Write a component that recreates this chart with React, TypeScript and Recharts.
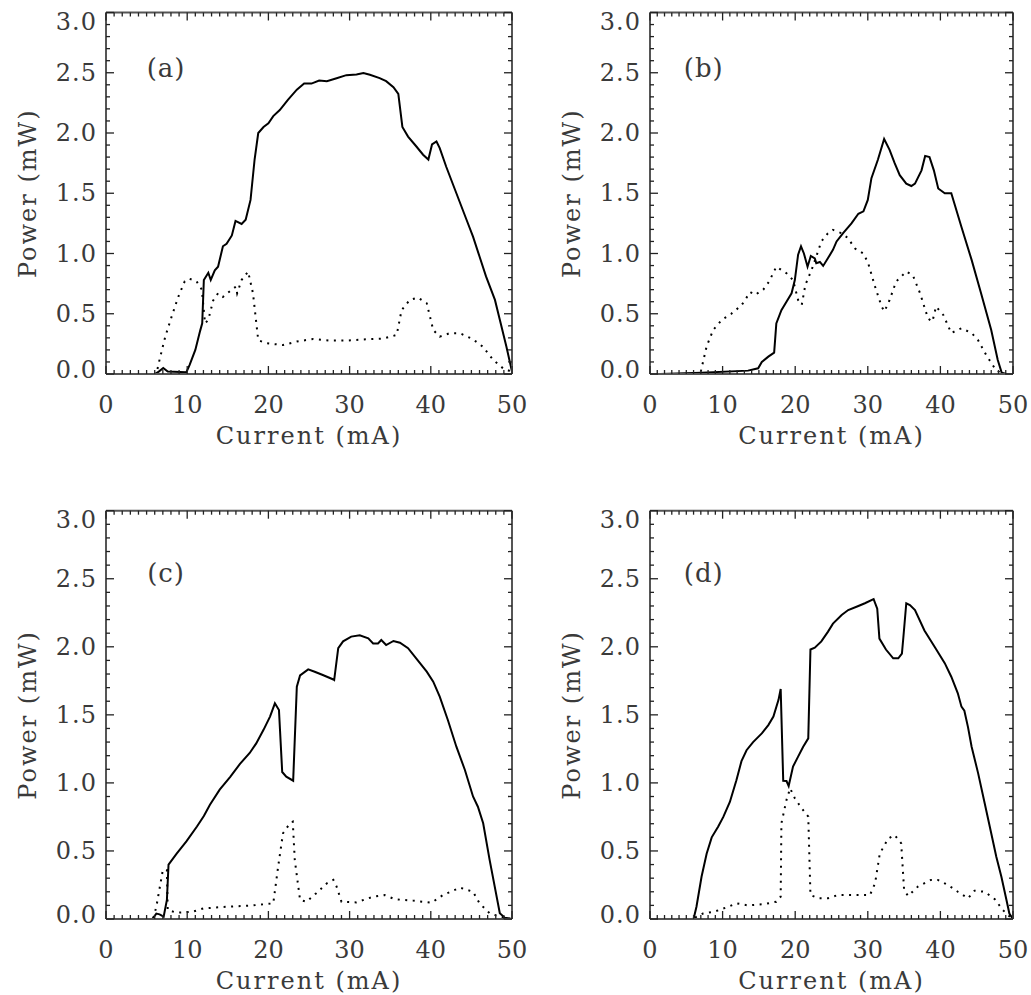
import { LineChart, Line, XAxis, YAxis, ReferenceDot } from "recharts";

const FONT = "DejaVu Serif";
const TEXT = "#3a3a3a";
const AXIS = "#555";

// major / minor tick values
const xMajor = [0, 10, 20, 30, 40, 50];
const yMajor = [0, 0.5, 1, 1.5, 2, 2.5, 3];
const xTicks = Array.from({ length: 51 }, (_, i) => i);
const yTicks = Array.from({ length: 31 }, (_, i) => i / 10);

// [current mA, power mW]
const aSolid = [
  [1.3, 0], [6.0, 0], [6.5, 0.02], [7.05, 0.05], [7.6, 0.02], [9.9, 0.015], [10.3, 0.075], [11.0, 0.2],
  [11.6, 0.36], [11.85, 0.42], [12.05, 0.78], [12.6, 0.84], [12.9, 0.78], [13.4, 0.86], [13.8, 0.89],
  [14.4, 1.06], [14.85, 1.08], [15.5, 1.15], [15.95, 1.27], [16.7, 1.245], [17.2, 1.28], [17.8, 1.445],
  [18.3, 1.78], [18.75, 2.0], [19.4, 2.05], [20.0, 2.08], [20.6, 2.14], [21.4, 2.19], [22.4, 2.275],
  [23.5, 2.36], [24.4, 2.41], [25.3, 2.41], [26.25, 2.435], [27.2, 2.43], [28.4, 2.455], [29.6, 2.48],
  [30.85, 2.485], [31.7, 2.497], [32.5, 2.483], [33.7, 2.455], [34.5, 2.43], [35.4, 2.38], [36.0, 2.325],
  [36.5, 2.05], [37.2, 1.97], [38.2, 1.89], [39.05, 1.82], [39.7, 1.78], [40.15, 1.905], [40.7, 1.93],
  [41.1, 1.875], [41.9, 1.72], [43.15, 1.5], [44.4, 1.28], [45.2, 1.14], [46.0, 0.975], [46.8, 0.81],
  [47.9, 0.615], [48.5, 0.45], [49.3, 0.23], [50, 0.02],
];
const aDots = [
  [1.3, 0], [6.2, 0], [6.6, 0.12], [7.3, 0.31], [8.1, 0.48], [8.9, 0.64], [9.7, 0.77], [10.3, 0.79],
  [11.15, 0.77], [11.8, 0.7], [12.2, 0.42], [12.6, 0.45], [13.2, 0.61], [13.8, 0.67], [14.4, 0.64],
  [15.5, 0.7], [16.0, 0.725], [16.15, 0.67], [16.7, 0.78], [17.5, 0.85], [18.1, 0.67], [18.75, 0.28],
  [19.8, 0.255], [21.8, 0.24], [23.5, 0.27], [25.5, 0.29], [27.6, 0.277], [29.6, 0.277], [32.1, 0.288],
  [34.1, 0.293], [35.8, 0.324], [36.4, 0.53], [37.4, 0.614], [38.4, 0.634], [39.5, 0.587], [40.3, 0.365],
  [41.1, 0.31], [42.3, 0.338], [43.6, 0.338], [45.2, 0.288], [46.4, 0.227], [47.7, 0.116], [48.9, 0.047],
  [49.9, 0.02],
];

const bSolid = [
  [1.4, 0], [7.1, 0.01], [13.5, 0.028], [14.9, 0.047], [15.4, 0.1], [16.3, 0.144], [17.1, 0.177],
  [17.4, 0.42], [18.1, 0.53], [18.8, 0.6], [19.5, 0.67], [19.95, 0.78], [20.4, 0.99], [20.8, 1.06],
  [21.2, 1.0], [21.7, 0.89], [22.15, 0.98], [22.7, 0.96], [22.9, 0.92], [23.4, 0.93], [23.85, 0.897],
  [24.5, 0.96], [25.2, 1.03], [25.7, 1.1], [26.6, 1.17], [27.75, 1.25], [28.7, 1.33], [29.4, 1.35],
  [30.0, 1.445], [30.5, 1.625], [31.4, 1.78], [32.25, 1.95], [33.0, 1.86], [33.7, 1.75], [34.4, 1.65],
  [35.3, 1.58], [36.0, 1.56], [36.5, 1.58], [37.4, 1.69], [37.9, 1.81], [38.5, 1.8], [39.1, 1.69],
  [39.7, 1.54], [40.6, 1.5], [41.5, 1.5], [42.9, 1.22], [44.3, 0.947], [45.6, 0.67], [47.0, 0.365],
  [47.9, 0.116], [48.45, 0.01], [49.1, 0], [50, 0],
];
const bDots = [
  [7.0, 0.02], [7.8, 0.23], [8.7, 0.365], [9.9, 0.45], [11.2, 0.5], [12.6, 0.57], [13.8, 0.68],
  [14.45, 0.656], [15.6, 0.7], [16.4, 0.767], [17.4, 0.89], [18.8, 0.836], [19.7, 0.78], [20.4, 0.614],
  [20.9, 0.573], [21.4, 0.74], [22.25, 0.863], [22.9, 0.974], [23.6, 1.1], [24.5, 1.168], [25.2, 1.196],
  [26.4, 1.168], [27.3, 1.126], [28.2, 1.043], [29.4, 1.0], [30.05, 0.92], [31.0, 0.725], [31.9, 0.56],
  [32.3, 0.52], [33.0, 0.614], [33.9, 0.767], [35.3, 0.85], [36.2, 0.82], [37.2, 0.67], [38.3, 0.46],
  [38.9, 0.435], [39.4, 0.56], [40.4, 0.49], [41.5, 0.34], [42.9, 0.38], [44.3, 0.34], [45.2, 0.28],
  [46.3, 0.158], [47.5, 0.047], [48.2, 0.01],
];

const cSolid = [
  [1.3, 0], [5.7, 0], [6.2, 0.04], [6.6, 0.034], [7.1, 0.017], [7.5, 0.14], [7.7, 0.4], [8.7, 0.48],
  [9.9, 0.57], [11.2, 0.68], [12.05, 0.757], [12.8, 0.84], [14.0, 0.95], [15.3, 1.045], [16.5, 1.14],
  [17.7, 1.22], [18.5, 1.29], [19.4, 1.39], [20.2, 1.487], [20.8, 1.585], [21.3, 1.536], [21.7, 1.08],
  [22.2, 1.046], [23.05, 1.016], [23.5, 1.707], [23.9, 1.79], [24.9, 1.834], [25.7, 1.817], [26.7, 1.793],
  [28.0, 1.76], [28.1, 1.756], [28.6, 1.99], [29.2, 2.04], [30.2, 2.075], [31.25, 2.084], [32.3, 2.062],
  [32.9, 2.025], [33.5, 2.025], [33.9, 2.05], [34.5, 2.013], [35.4, 2.043], [36.2, 2.03], [37.2, 1.99],
  [38.2, 1.915], [39.5, 1.817], [40.3, 1.744], [41.1, 1.634], [42.1, 1.462], [43.15, 1.266], [44.2, 1.095],
  [45.2, 0.9], [45.8, 0.825], [46.45, 0.703], [47.25, 0.433], [48.5, 0.042], [49.1, 0.01], [50, 0],
];
const cDots = [
  [1.3, 0], [5.8, 0], [6.2, 0.09], [7.0, 0.36], [7.5, 0.36], [7.6, 0.066], [8.7, 0.046], [10.7, 0.054],
  [12.0, 0.078], [14.9, 0.09], [18.1, 0.1], [20.6, 0.115], [21.2, 0.385], [21.8, 0.63], [22.65, 0.703],
  [23.0, 0.715], [23.25, 0.433], [23.9, 0.14], [24.7, 0.127], [25.9, 0.19], [27.2, 0.262], [28.0, 0.287],
  [28.4, 0.238], [29.0, 0.127], [30.8, 0.122], [32.9, 0.164], [34.3, 0.176], [35.6, 0.145], [37.8, 0.135],
  [40.1, 0.12], [41.5, 0.176], [43.6, 0.23], [45.2, 0.2], [46.0, 0.115], [47.25, 0.042], [48.5, 0.017],
  [49.7, 0.005],
];

const dSolid = [
  [1.4, 0], [6.0, 0], [6.4, 0.09], [7.1, 0.31], [7.8, 0.48], [8.5, 0.6], [9.4, 0.68], [10.1, 0.75],
  [11.0, 0.86], [11.9, 1.02], [12.6, 1.16], [13.3, 1.24], [14.2, 1.3], [15.4, 1.364], [16.3, 1.425],
  [17.0, 1.487], [17.7, 1.61], [18.0, 1.69], [18.35, 1.016], [18.8, 1.014], [19.1, 0.977], [19.7, 1.12],
  [20.4, 1.193], [21.1, 1.266], [21.8, 1.327], [22.1, 1.98], [22.7, 1.994], [23.6, 2.04], [24.5, 2.11],
  [25.2, 2.17], [26.4, 2.234], [27.3, 2.27], [28.7, 2.3], [29.6, 2.32], [30.8, 2.35], [31.3, 2.28],
  [31.6, 2.06], [32.5, 1.98], [33.5, 1.915], [34.2, 1.915], [34.7, 1.95], [34.9, 2.07], [35.3, 2.32],
  [35.8, 2.306], [36.5, 2.27], [37.8, 2.12], [39.2, 2.0], [40.6, 1.88], [41.5, 1.78], [42.4, 1.658],
  [42.9, 1.56], [43.3, 1.53], [43.8, 1.41], [44.3, 1.266], [45.2, 1.07], [46.1, 0.85], [47.0, 0.63],
  [47.7, 0.458], [48.4, 0.31], [49.1, 0.14], [49.5, 0.04], [50, 0],
];
const dDots = [
  [6.2, 0.01], [7.3, 0.04], [8.9, 0.054], [10.8, 0.09], [11.9, 0.115], [13.5, 0.1], [15.8, 0.11],
  [17.4, 0.127], [18.0, 0.164], [18.1, 0.703], [18.8, 0.874], [19.3, 0.96], [19.95, 0.887], [20.9, 0.813],
  [21.8, 0.752], [22.1, 0.176], [23.2, 0.152], [24.5, 0.152], [25.9, 0.176], [27.75, 0.176], [30.3, 0.176],
  [31.0, 0.262], [31.65, 0.48], [32.8, 0.59], [33.7, 0.617], [34.6, 0.556], [35.0, 0.213], [35.55, 0.169],
  [36.9, 0.238], [38.7, 0.287], [39.65, 0.287], [41.05, 0.25], [42.4, 0.2], [43.8, 0.152], [44.7, 0.208],
  [46.1, 0.2], [47.5, 0.145], [48.6, 0.066], [49.8, 0.005],
];

const toPts = (arr: number[][]) => arr.map(([x, y]) => ({ x, y }));

const textStyle = { fontFamily: FONT, fontSize: 24, fill: TEXT };

function BottomTick({ x, y, payload }: any) {
  const major = xMajor.includes(payload.value);
  return (
    <g>
      <line x1={x} x2={x} y1={y} y2={y - (major ? 8 : 4)} stroke="#222" strokeWidth={1.3} />
      {major && (
        <text x={x} y={y + 31} textAnchor="middle" dominantBaseline="central" {...textStyle}>
          {payload.value}
        </text>
      )}
    </g>
  );
}

function TopTick({ x, y, payload }: any) {
  const major = xMajor.includes(payload.value);
  return <line x1={x} x2={x} y1={y} y2={y + (major ? 8 : 4)} stroke="#222" strokeWidth={1.3} />;
}

function LeftTick({ x, y, payload }: any) {
  const major = yMajor.includes(payload.value);
  // end labels nudged inside the frame like the original
  const dy = payload.value === 3 ? 9 : payload.value === 0 ? -4 : 0;
  return (
    <g>
      <line x1={x} x2={x + (major ? 8 : 4)} y1={y} y2={y} stroke="#222" strokeWidth={1.3} />
      {major && (
        <text x={x - 9} y={y + dy} textAnchor="end" dominantBaseline="central" letterSpacing={1} {...textStyle}>
          {payload.value.toFixed(1)}
        </text>
      )}
    </g>
  );
}

function RightTick({ x, y, payload }: any) {
  const major = yMajor.includes(payload.value);
  return <line x1={x} x2={x - (major ? 8 : 4)} y1={y} y2={y} stroke="#222" strokeWidth={1.3} />;
}

function PanelTag({ viewBox, value }: any) {
  const cx = viewBox.x + viewBox.width / 2;
  const cy = viewBox.y + viewBox.height / 2;
  return (
    <text x={cx} y={cy} textAnchor="middle" dominantBaseline="central" {...textStyle} fontSize={26} letterSpacing={1}>
      {value}
    </text>
  );
}

interface PanelProps {
  tag: string;
  left: number;
  top: number;
  width: number;
  height: number;
  margin: { top: number; right: number; bottom: number; left: number };
  xh: number;
  solid: number[][];
  dots: number[][];
}

function Panel({ tag, left, top, width, height, margin, xh, solid, dots }: PanelProps) {
  const axisLine = { stroke: AXIS, strokeWidth: 2 };
  const solidPts = toPts(solid);
  return (
    <div style={{ position: "absolute", left, top }}>
      <LineChart width={width} height={height} margin={margin}>
        <XAxis
          dataKey="x"
          type="number"
          domain={[0, 50]}
          ticks={xTicks}
          interval={0}
          height={xh}
          tickSize={0}
          tickMargin={0}
          tickLine={false}
          axisLine={axisLine}
          tick={BottomTick}
          label={{
            value: "Current (mA)",
            position: "insideTop",
            offset: 53,
            style: { ...textStyle, letterSpacing: 2 },
          }}
        />
        <XAxis
          xAxisId="top"
          dataKey="x"
          orientation="top"
          type="number"
          domain={[0, 50]}
          ticks={xTicks}
          interval={0}
          height={1}
          tickSize={0}
          tickMargin={0}
          tickLine={false}
          axisLine={axisLine}
          tick={TopTick}
        />
        <YAxis
          type="number"
          domain={[0, 3]}
          ticks={yTicks}
          interval={0}
          width={90}
          tickSize={0}
          tickMargin={0}
          tickLine={false}
          axisLine={axisLine}
          tick={LeftTick}
          label={{
            value: "Power (mW)",
            angle: -90,
            position: "insideLeft",
            offset: 11,
            style: { ...textStyle, letterSpacing: 2, textAnchor: "middle" },
          }}
        />
        <YAxis
          yAxisId="right"
          orientation="right"
          type="number"
          domain={[0, 3]}
          ticks={yTicks}
          interval={0}
          width={1}
          tickSize={0}
          tickMargin={0}
          tickLine={false}
          axisLine={axisLine}
          tick={RightTick}
        />
        {/* invisible copy so the mirrored frame axes carry data */}
        <Line
          xAxisId="top"
          yAxisId="right"
          data={solidPts}
          dataKey="y"
          stroke="none"
          dot={false}
          activeDot={false}
          isAnimationActive={false}
        />
        <Line
          data={toPts(dots)}
          dataKey="y"
          type="linear"
          stroke="#000"
          strokeWidth={2}
          strokeDasharray="2 5.5"
          dot={false}
          isAnimationActive={false}
        />
        <Line
          data={solidPts}
          dataKey="y"
          type="linear"
          stroke="#000"
          strokeWidth={2}
          dot={false}
          isAnimationActive={false}
        />
        <ReferenceDot
          x={7.4}
          y={2.54}
          r={1}
          fill="none"
          stroke="none"
          label={<PanelTag value={`(${tag})`} />}
        />
      </LineChart>
    </div>
  );
}

export default function App() {
  return (
    <div style={{ position: "absolute", left: 0, top: 0, width: 1031, height: 995, background: "#fff" }}>
      <Panel tag="a" left={0} top={0} width={540} height={480}
        margin={{ top: 11.5, right: 27, bottom: 26, left: 16 }} xh={80} solid={aSolid} dots={aDots} />
      <Panel tag="b" left={520} top={0} width={511} height={480}
        margin={{ top: 11.5, right: 17, bottom: 26, left: 40 }} xh={80} solid={bSolid} dots={bDots} />
      <Panel tag="c" left={0} top={480} width={540} height={515}
        margin={{ top: 29.7, right: 27, bottom: 6, left: 16 }} xh={70} solid={cSolid} dots={cDots} />
      <Panel tag="d" left={520} top={480} width={511} height={515}
        margin={{ top: 29.7, right: 17, bottom: 6, left: 40 }} xh={70} solid={dSolid} dots={dDots} />
    </div>
  );
}
